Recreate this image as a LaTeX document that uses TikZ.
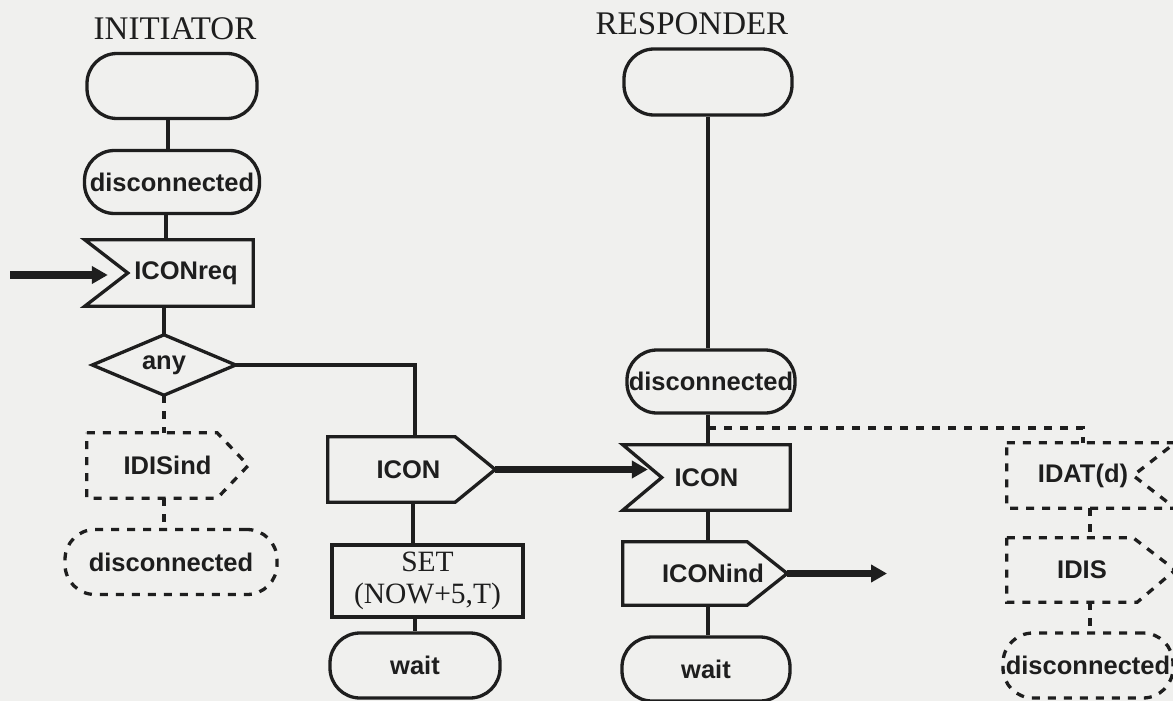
\documentclass[tikz,border=0pt]{standalone}
\usepackage{fontspec}
\setmainfont{Liberation Serif}
\newfontfamily\symfont{Liberation Sans}
\usetikzlibrary{arrows.meta}

\definecolor{ink}{HTML}{1E1E1E}
\definecolor{paper}{HTML}{F0F0EE}

\begin{document}
\begin{tikzpicture}[x=1pt,y=-1pt,
  lbl/.style={font=\symfont\bfseries\fontsize{25.5}{29}\selectfont, text=ink, inner sep=0pt},
  outl/.style={draw=ink, line width=3.3pt},
  dshl/.style={outl, dash pattern=on 8pt off 8pt},
  state/.style={lbl, rectangle, rounded corners=30pt, minimum width=170pt, minimum height=65pt},
  symbox/.style={lbl, rectangle, minimum height=65pt},
  title/.style={font=\fontsize{33}{36}\selectfont, text=ink, anchor=base},
  flow/.style={outl},
  dsh/.style={dshl},
  signal/.style={draw=ink, line width=7.5pt, -{Triangle[length=16pt,width=17pt]}}
]
\useasboundingbox (0,0) rectangle (1173,701);
\fill[paper] (0,0) rectangle (1173,701);

% column headings
\node[title] (tinit) at (175,40) {INITIATOR};
\node[title] (tresp) at (692,35) {RESPONDER};

% ---------------- initiator process ----------------
\node[state, outl] (istart) at (172,86) {};
\node[state, outl, minimum width=175pt, minimum height=63pt] (idisc) at (172,182) {disconnected};
\node[symbox, minimum width=168pt, minimum height=66pt] (ireq) at (169,273) {\hspace*{34pt}ICONreq};
\node[lbl, minimum width=143pt, minimum height=60pt] (iany) at (164,365) {any};
\node[symbox, minimum width=161pt] (iidis) at (167.5,465.5) {IDISind};
\node[state, dshl, minimum width=212pt] (idisc2) at (171,562) {disconnected};
\node[symbox, minimum width=167pt] (icon) at (411.5,469.5) {ICON\hspace*{6pt}};
\node[lbl, outl, rectangle, minimum width=191pt, minimum height=72pt,
      align=center, font=\fontsize{29.5}{32}\selectfont] (iset) at (427.5,581) {SET\\(NOW+5,T)};
\node[state, outl] (iwait) at (415,665.5) {wait};

% outlines of the signal and decision symbols
\draw[flow] (ireq.north west) -- (ireq.north east) -- (ireq.south east)
  -- (ireq.south west) -- ([xshift=43pt]ireq.west) -- cycle;
\draw[flow] (iany.west) -- (iany.north) -- (iany.east) -- (iany.south) -- cycle;
\draw[dsh] (iidis.north west) -- ([xshift=-31pt]iidis.north east) -- (iidis.east)
  -- ([xshift=-31pt]iidis.south east) -- (iidis.south west) -- cycle;
\draw[flow] (icon.north west) -- ([xshift=-40pt]icon.north east) -- (icon.east)
  -- ([xshift=-40pt]icon.south east) -- (icon.south west) -- cycle;

% ---------------- responder process ----------------
\node[state, outl, minimum width=168pt, minimum height=66pt] (rstart) at (708,82) {};
\node[state, outl, minimum width=168pt, minimum height=63pt] (rdisc) at (711,381.5) {disconnected};
\node[symbox, minimum width=167pt] (ricon) at (706.5,477.5) {ICON};
\node[symbox, minimum width=164pt, minimum height=63pt] (rind) at (705,573.5) {\hspace*{16pt}ICONind};
\node[state, outl, minimum width=168pt, minimum height=64pt] (rwait) at (706,669) {wait};

\node[symbox, minimum width=168pt] (idat) at (1091,475.5) {IDAT(d)\hspace*{16pt}};
\node[symbox, minimum width=168pt, minimum height=64pt] (idis) at (1091,570) {IDIS\hspace*{18pt}};
\node[state, dshl, minimum width=170pt] (rdisc2) at (1088,665.5) {disconnected};

\draw[flow] (ricon.north west) -- (ricon.north east) -- (ricon.south east)
  -- (ricon.south west) -- ([xshift=39pt]ricon.west) -- cycle;
\draw[flow] (rind.north west) -- ([xshift=-40pt]rind.north east) -- (rind.east)
  -- ([xshift=-40pt]rind.south east) -- (rind.south west) -- cycle;
\draw[dsh] (idat.north west) -- (idat.north east) -- ([xshift=-42pt]idat.east)
  -- (idat.south east) -- (idat.south west) -- cycle;
\draw[dsh] (idis.north west) -- ([xshift=-42pt]idis.north east) -- (idis.east)
  -- ([xshift=-38pt]idis.south east) -- (idis.south west) -- cycle;

% ---------------- connectors ----------------
\draw[flow] (istart.south -| 168,0) -- (idisc.north -| 168,0);
\draw[flow] (idisc.south -| 166,0) -- (ireq.north -| 166,0);
\draw[flow] (ireq.south -| iany.north) -- (iany.north);
\draw[flow] (iany.east) -| (icon.north -| 415,0);
\draw[dsh] (iany.south) -- (iany.south |- iidis.north);
\draw[dsh] (iany.south |- iidis.south) -- (iany.south |- idisc2.north);
\draw[flow] (icon.south -| 413,0) -- (iset.north -| 413,0);
\draw[flow] (iset.south -| 415,0) -- (iwait.north -| 415,0);

\draw[flow] (rstart.south) -- (rstart.south |- rdisc.north);
\draw[flow] (rdisc.south -| rstart.south) -- (rstart.south |- ricon.north);
\draw[flow] (ricon.south -| rstart.south) -- (rstart.south |- rind.north);
\draw[flow] (rind.south -| rstart.south) -- (rstart.south |- rwait.north);

\coordinate (rbranch) at (708,428);
\draw[dsh] (rbranch) -| ([xshift=-8pt]idat.north);
\draw[dsh] (idat.south -| 1090,0) -- (idis.north -| 1090,0);
\draw[dsh] (idis.south -| 1090,0) -- (rdisc2.north -| 1090,0);

% signal arrows
\coordinate (env-in) at (10,275);
\coordinate (env-out) at (887,575);
\draw[signal, shorten >=20pt] (env-in) -- ([xshift=43pt]ireq.west |- env-in);
\draw[signal, shorten >=14pt] (icon.east) -- ([xshift=39pt]ricon.west |- icon.east);
\draw[signal] (rind.east) -- (env-out |- rind.east);
\end{tikzpicture}
\end{document}
